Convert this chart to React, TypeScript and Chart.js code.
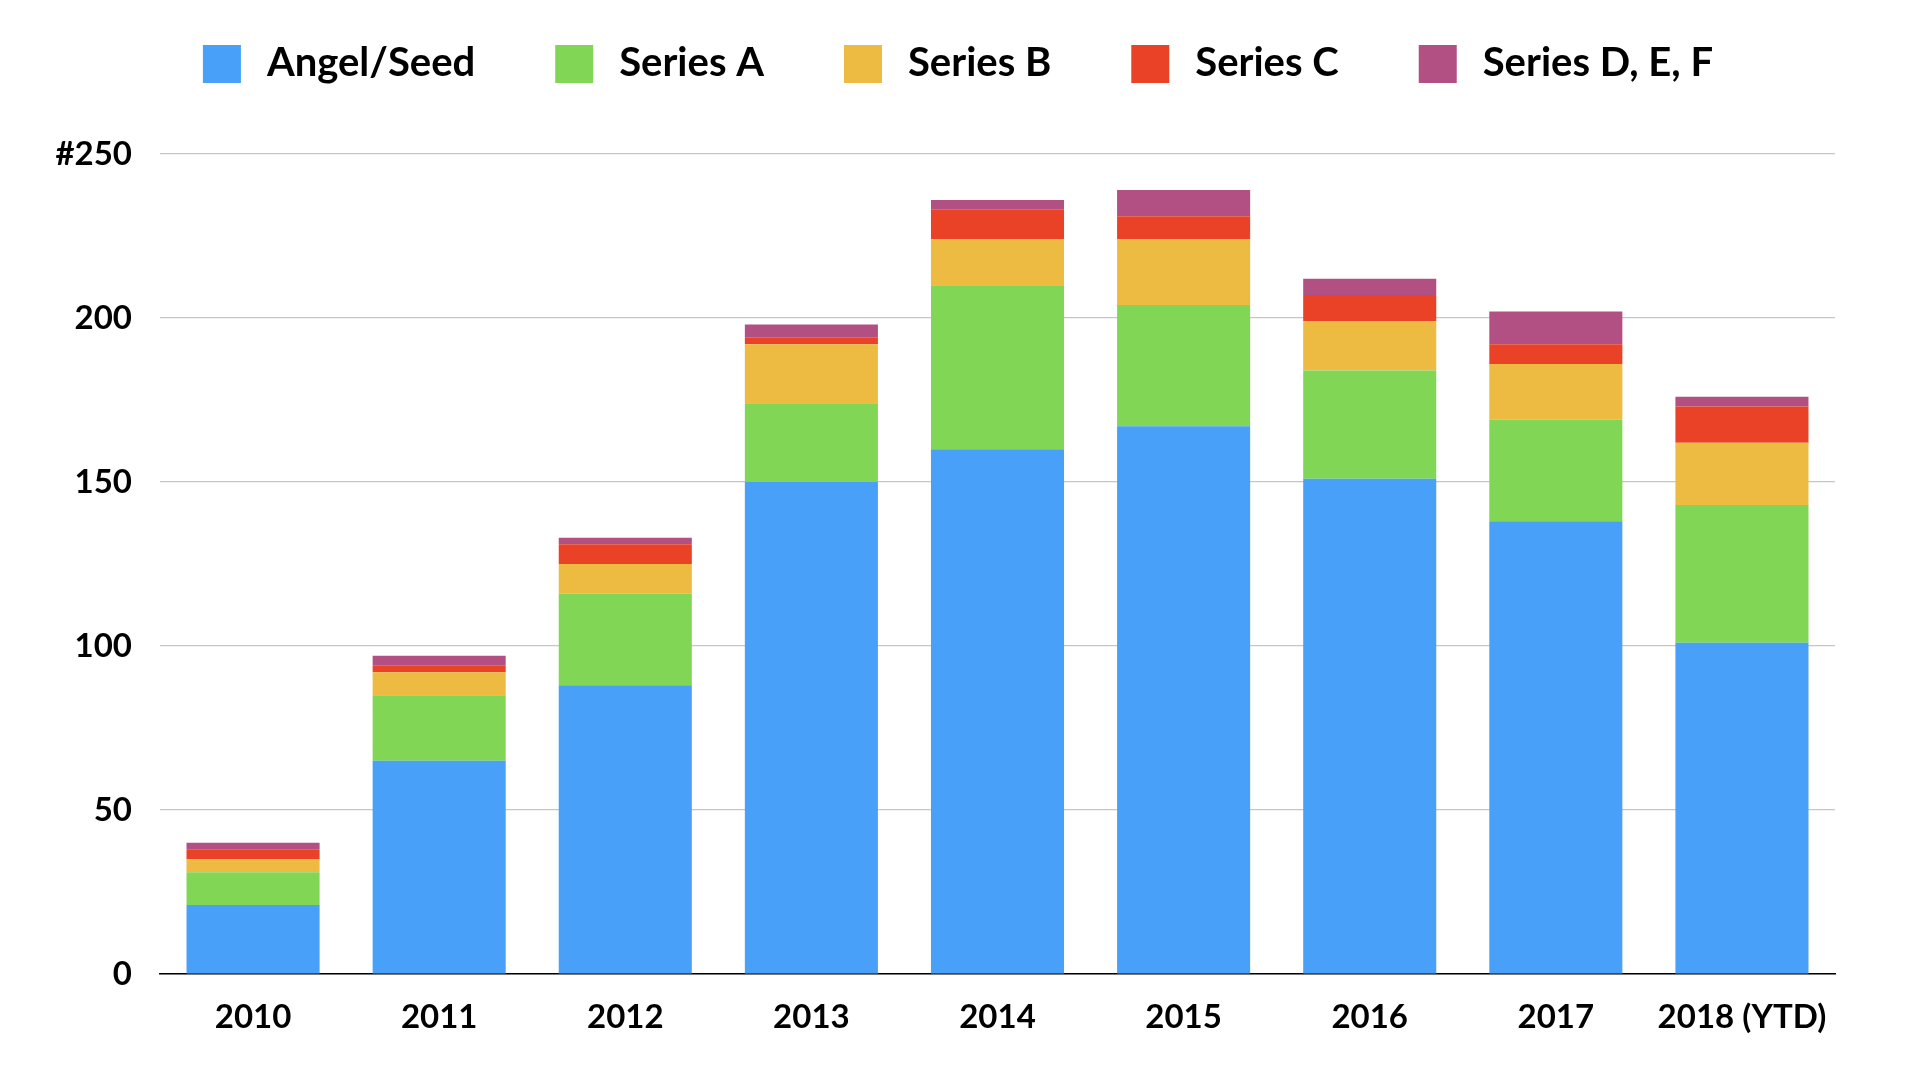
import React, { useEffect, useRef } from 'react';
import { Chart, registerables } from 'chart.js';

Chart.register(...registerables);

const categories = ['2010', '2011', '2012', '2013', '2014', '2015', '2016', '2017', '2018 (YTD)'];
const seriesNames = ['Angel/Seed', 'Series A', 'Series B', 'Series C', 'Series D, E, F'];
const angelSeed = [21, 65, 88, 150, 160, 167, 151, 138, 101];
const seriesA = [10, 20, 28, 24, 50, 37, 33, 31, 42];
const seriesB = [4, 7, 9, 18, 14, 20, 15, 17, 19];
const seriesC = [3, 2, 6, 2, 9, 7, 8, 6, 11];
const seriesDEF = [2, 3, 2, 4, 3, 8, 5, 10, 3];
const seriesColors = ['#48A0F8', '#82D656', '#EDBB42', '#E94226', '#B25084'];
const yTickValues = [0, 50, 100, 150, 200, 250];
const yTickLabels = ['0', '50', '100', '150', '200', '#250'];

const FONT = 'Lato, "DejaVu Sans", sans-serif';

const topLegend = {
  id: 'topLegend',
  afterDraw(chart: any) {
    const ctx = chart.ctx;
    ctx.save();
    ctx.font = `bold 40px ${FONT}`;
    ctx.textBaseline = 'middle';
    ctx.textAlign = 'left';
    const box = 38;
    const gapText = 26;
    const gapItem = 80;
    const items = chart.data.datasets.map((ds: any) => ({
      text: ds.label as string,
      color: ds.backgroundColor as string,
      w: ctx.measureText(ds.label).width,
    }));
    const total =
      items.reduce((s: number, it: any) => s + box + gapText + it.w, 0) + gapItem * (items.length - 1);
    let x = chart.width / 2 - 2 - total / 2;
    const boxTop = 45;
    for (const it of items) {
      ctx.fillStyle = it.color;
      ctx.fillRect(x, boxTop, box, box);
      ctx.fillStyle = '#000000';
      ctx.fillText(it.text, x + box + gapText, boxTop + box / 2 - 1);
      x += box + gapText + it.w + gapItem;
    }
    ctx.restore();
  },
};

export default function App() {
  const canvasRef = useRef<HTMLCanvasElement | null>(null);

  useEffect(() => {
    if (!canvasRef.current) return;
    const seriesData = [angelSeed, seriesA, seriesB, seriesC, seriesDEF];
    const chart = new Chart(canvasRef.current, {
      type: 'bar',
      data: {
        labels: categories,
        datasets: seriesNames.map((name, i) => ({
          label: name,
          data: seriesData[i],
          backgroundColor: seriesColors[i],
          borderWidth: 0,
          categoryPercentage: 1,
          barPercentage: 0.715,
        })),
      },
      options: {
        responsive: true,
        maintainAspectRatio: false,
        animation: false,
        layout: { padding: { top: 154, right: 85, bottom: 0, left: 0 } },
        plugins: {
          legend: { display: false },
          tooltip: { enabled: false },
          title: { display: false },
        },
        scales: {
          x: {
            stacked: true,
            grid: { display: false },
            border: { display: true, color: '#000000', width: 1.5 },
            ticks: {
              color: '#000000',
              padding: 16,
              maxRotation: 0,
              autoSkip: false,
              font: { family: FONT, size: 33, weight: 'bold' },
            },
            afterFit: (scale: any) => {
              scale.height = 106;
            },
          },
          y: {
            stacked: true,
            min: 0,
            max: 250,
            afterBuildTicks: (scale: any) => {
              scale.ticks = yTickValues.map((v) => ({ value: v }));
            },
            grid: { color: '#C6C6C6', lineWidth: 1.2, drawTicks: false },
            border: { display: false },
            ticks: {
              color: '#000000',
              padding: 28,
              font: { family: FONT, size: 33, weight: 'bold' },
              callback: (value: any) => {
                const idx = yTickValues.indexOf(Number(value));
                return idx >= 0 ? yTickLabels[idx] : '';
              },
            },
            afterFit: (scale: any) => {
              scale.width = 160;
            },
          },
        },
      },
      plugins: [topLegend],
    });
    return () => chart.destroy();
  }, []);

  return (
    <div style={{ position: 'absolute', left: 0, top: 0, width: 1920, height: 1080, background: '#ffffff' }}>
      <canvas ref={canvasRef} />
    </div>
  );
}
